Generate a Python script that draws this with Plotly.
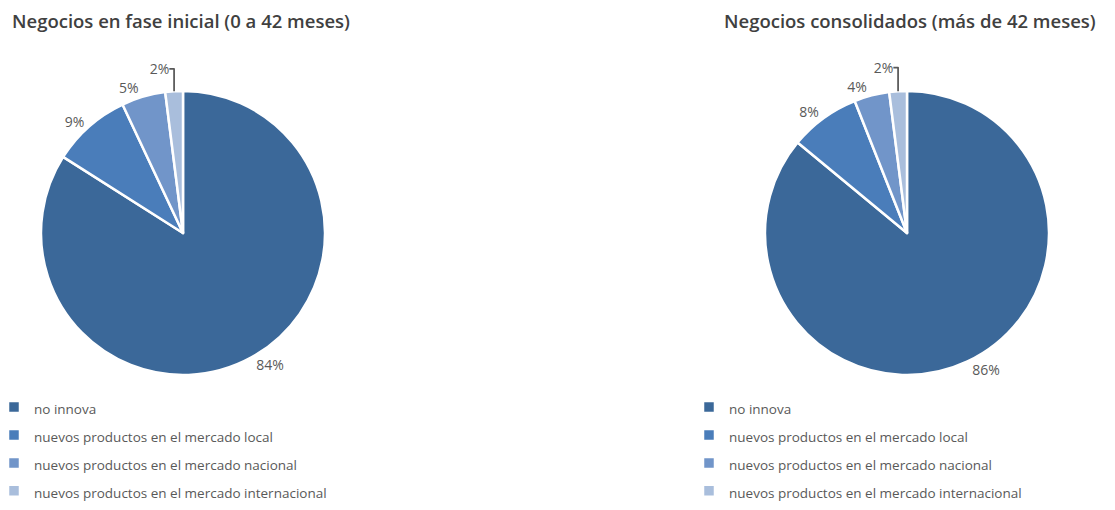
import plotly.graph_objects as go

categories = ["no innova",
              "nuevos productos en el mercado local",
              "nuevos productos en el mercado nacional",
              "nuevos productos en el mercado internacional"]
inicial_values = [84, 9, 5, 2]
consolidados_values = [86, 8, 4, 2]
titles = ["Negocios en fase inicial (0 a 42 meses)",
          "Negocios consolidados (más de 42 meses)"]
colors = ["#3B6899", "#4A7DBA", "#7195C9", "#A9BEDC"]

FONT = "Open Sans"
TXT = "#595959"
W, H = 1115, 510
OFF = 8  # default page margin of the html body

def px_x(v):
    return (v - OFF) / W

def px_y(v):
    return 1 - (v - OFF) / H

legend_labels = ['<span style="font-size:13.5px">' + c + '</span>' for c in categories]

common = dict(
    labels=legend_labels, sort=False, direction="clockwise", rotation=0,
    marker=dict(colors=colors, line=dict(color="white", width=2.5)),
    textposition="outside",
    texttemplate="%{value}%",
    outsidetextfont=dict(family=FONT, size=14, color=TXT),
    hovertemplate="%{label}: %{value}%<extra></extra>",
)

fig = go.Figure()
fig.add_trace(go.Pie(values=inicial_values,
                     domain=dict(x=[px_x(41), px_x(325)], y=[px_y(375), px_y(91)]),
                     legend="legend", legendgroup="inicial", **common))
fig.add_trace(go.Pie(values=consolidados_values,
                     domain=dict(x=[px_x(765), px_x(1049)], y=[px_y(375), px_y(91)]),
                     legend="legend2", legendgroup="consolidados", **common))

legend_common = dict(font=dict(family=FONT, size=19.2, color=TXT), bgcolor="rgba(0,0,0,0)",
                     yanchor="top", xanchor="left", orientation="v", traceorder="normal",
                     indentation=-14)
title_font = dict(family=FONT, size=18.5, color="#404040", weight=600)
fig.update_layout(
    width=W, height=H, margin=dict(l=0, r=0, t=0, b=0),
    paper_bgcolor="white", plot_bgcolor="white",
    showlegend=True,
    legend=dict(x=0, y=px_y(388), **legend_common),
    legend2=dict(x=px_x(703), y=px_y(388), **legend_common),
    annotations=[
        dict(text=titles[0], x=px_x(10), y=px_y(20), xref="paper", yref="paper",
             xanchor="left", yanchor="middle", showarrow=False, font=title_font),
        dict(text=titles[1], x=px_x(722), y=px_y(20), xref="paper", yref="paper",
             xanchor="left", yanchor="middle", showarrow=False, font=title_font),
    ],
)
fig.write_html("out.html")
